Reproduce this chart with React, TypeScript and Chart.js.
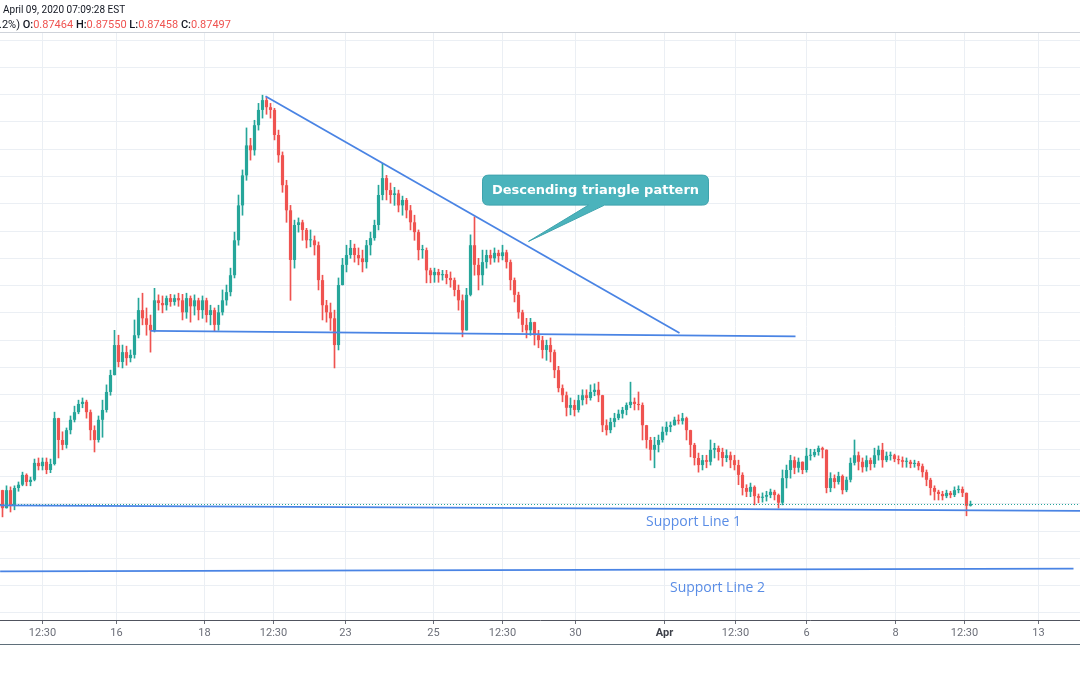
import React, { useEffect, useRef } from "react";
import { Chart, registerables } from "chart.js";

Chart.register(...registerables);

// ---------- DATA (EUR/GBP, candles) ----------
const firstOpen = 0.8775;

const closes = [
  0.8742, 0.8775, 0.8748, 0.8779, 0.8785, 0.8803, 0.8790, 0.8794, 0.8825, 0.8819,
  0.8827, 0.8812, 0.8823, 0.8907, 0.8867, 0.8858, 0.8885, 0.8904, 0.8918, 0.8933,
  0.8937, 0.8918, 0.8885, 0.8867, 0.8904, 0.8922, 0.8955, 0.8986, 0.9041, 0.9010,
  0.9028, 0.9017, 0.9023, 0.9059, 0.9105, 0.9090, 0.9078, 0.9068, 0.9123, 0.9118,
  0.9114, 0.9127, 0.9120, 0.9127, 0.9123, 0.9101, 0.9127, 0.9112, 0.9123, 0.9105,
  0.9123, 0.9096, 0.9105, 0.9078, 0.9101, 0.9123, 0.9138, 0.9169, 0.9233, 0.9297,
  0.9352, 0.9407, 0.9398, 0.9444, 0.9472, 0.9490, 0.9477, 0.9472, 0.9426, 0.9389,
  0.9334, 0.9288, 0.9197, 0.9261, 0.9266, 0.9252, 0.9233, 0.9233, 0.9224, 0.9160,
  0.9114, 0.9101, 0.9090, 0.9041, 0.9151, 0.9188, 0.9206, 0.9219, 0.9206, 0.9200,
  0.9193, 0.9224, 0.9237, 0.9261, 0.9316, 0.9347, 0.9325, 0.9316, 0.9319, 0.9297,
  0.9307, 0.9288, 0.9266, 0.9248, 0.9215, 0.9215, 0.9178, 0.9169, 0.9175, 0.9169,
  0.9171, 0.9164, 0.9160, 0.9142, 0.9123, 0.9068, 0.9133, 0.9224, 0.9188, 0.9169,
  0.9193, 0.9206, 0.9200, 0.9210, 0.9204, 0.9211, 0.9193, 0.9160, 0.9133, 0.9101,
  0.9078, 0.9068, 0.9083, 0.9059, 0.9050, 0.9032, 0.9041, 0.9028, 0.8995, 0.8962,
  0.8949, 0.8926, 0.8931, 0.8922, 0.8940, 0.8949, 0.8944, 0.8955, 0.8959, 0.8949,
  0.8894, 0.8885, 0.8900, 0.8907, 0.8915, 0.8922, 0.8931, 0.8937, 0.8933, 0.8931,
  0.8894, 0.8867, 0.8849, 0.8858, 0.8867, 0.8882, 0.8891, 0.8894, 0.8904, 0.8902,
  0.8907, 0.8885, 0.8858, 0.8834, 0.8821, 0.8830, 0.8827, 0.8849, 0.8852, 0.8845,
  0.8834, 0.8839, 0.8830, 0.8821, 0.8803, 0.8779, 0.8772, 0.8781, 0.8764, 0.8761,
  0.8763, 0.8766, 0.8772, 0.8766, 0.8752, 0.8797, 0.8812, 0.8830, 0.8816, 0.8827,
  0.8812, 0.8838, 0.8839, 0.8845, 0.8852, 0.8849, 0.8779, 0.8797, 0.8790, 0.8801,
  0.8775, 0.8794, 0.8825, 0.8839, 0.8827, 0.8817, 0.8830, 0.8823, 0.8839, 0.8849,
  0.8830, 0.8838, 0.8839, 0.8832, 0.8830, 0.8827, 0.8827, 0.8823, 0.8825, 0.8819,
  0.8808, 0.8794, 0.8779, 0.8772, 0.8768, 0.8764, 0.8770, 0.8766, 0.8775, 0.8777,
  0.8770, 0.87464, 0.87497,
];

const highs = [
  0.8775, 0.8783, 0.8781, 0.8783, 0.8790, 0.8808, 0.8805, 0.8799, 0.8832, 0.8834,
  0.8834, 0.8834, 0.8832, 0.8918, 0.8907, 0.8882, 0.8889, 0.8911, 0.8929, 0.8940,
  0.8944, 0.8940, 0.8922, 0.8893, 0.8911, 0.8940, 0.8968, 0.8995, 0.9068, 0.9059,
  0.9041, 0.9039, 0.9032, 0.9087, 0.9127, 0.9136, 0.9109, 0.9096, 0.9145, 0.9133,
  0.9131, 0.9131, 0.9134, 0.9133, 0.9136, 0.9134, 0.9136, 0.9131, 0.9133, 0.9127,
  0.9131, 0.9127, 0.9114, 0.9109, 0.9114, 0.9142, 0.9151, 0.9182, 0.9248, 0.9316,
  0.9362, 0.9439, 0.9420, 0.9453, 0.9484, 0.9499, 0.9495, 0.9484, 0.9475, 0.9435,
  0.9395, 0.9343, 0.9297, 0.9270, 0.9274, 0.9270, 0.9255, 0.9252, 0.9241, 0.9230,
  0.9169, 0.9123, 0.9118, 0.9105, 0.9164, 0.9200, 0.9224, 0.9233, 0.9226, 0.9219,
  0.9215, 0.9233, 0.9248, 0.9270, 0.9334, 0.9374, 0.9352, 0.9338, 0.9330, 0.9325,
  0.9314, 0.9310, 0.9297, 0.9279, 0.9252, 0.9224, 0.9219, 0.9182, 0.9182, 0.9180,
  0.9178, 0.9178, 0.9175, 0.9164, 0.9151, 0.9133, 0.9145, 0.9243, 0.9276, 0.9200,
  0.9215, 0.9215, 0.9215, 0.9219, 0.9215, 0.9224, 0.9215, 0.9197, 0.9164, 0.9138,
  0.9105, 0.9090, 0.9090, 0.9083, 0.9068, 0.9057, 0.9050, 0.9054, 0.9032, 0.9002,
  0.8968, 0.8955, 0.8944, 0.8940, 0.8949, 0.8959, 0.8959, 0.8968, 0.8970, 0.8973,
  0.8949, 0.8904, 0.8907, 0.8916, 0.8922, 0.8927, 0.8935, 0.8973, 0.8944, 0.8955,
  0.8935, 0.8894, 0.8872, 0.8872, 0.8876, 0.8891, 0.8900, 0.8900, 0.8909, 0.8913,
  0.8916, 0.8909, 0.8885, 0.8861, 0.8843, 0.8839, 0.8839, 0.8867, 0.8861, 0.8856,
  0.8852, 0.8849, 0.8845, 0.8839, 0.8830, 0.8807, 0.8785, 0.8788, 0.8783, 0.8768,
  0.8770, 0.8773, 0.8777, 0.8775, 0.8768, 0.8812, 0.8821, 0.8839, 0.8836, 0.8834,
  0.8827, 0.8852, 0.8850, 0.8850, 0.8856, 0.8854, 0.8845, 0.8807, 0.8803, 0.8808,
  0.8803, 0.8799, 0.8834, 0.8867, 0.8845, 0.8834, 0.8838, 0.8834, 0.8852, 0.8856,
  0.8861, 0.8845, 0.8845, 0.8841, 0.8838, 0.8836, 0.8834, 0.8830, 0.8830, 0.8828,
  0.8823, 0.8812, 0.8797, 0.8783, 0.8775, 0.8773, 0.8775, 0.8773, 0.8781, 0.8783,
  0.8781, 0.8766, 0.87550,
];

const lows = [
  0.8726, 0.8742, 0.8735, 0.8739, 0.8773, 0.8783, 0.8783, 0.8783, 0.8792, 0.8812,
  0.8812, 0.8805, 0.8807, 0.8821, 0.8834, 0.8849, 0.8852, 0.8878, 0.8900, 0.8915,
  0.8926, 0.8907, 0.8867, 0.8845, 0.8863, 0.8872, 0.8918, 0.8949, 0.8992, 0.9001,
  0.8999, 0.9004, 0.9010, 0.9017, 0.9054, 0.9078, 0.9059, 0.9028, 0.9065, 0.9105,
  0.9100, 0.9105, 0.9112, 0.9114, 0.9112, 0.9087, 0.9090, 0.9083, 0.9096, 0.9087,
  0.9090, 0.9083, 0.9078, 0.9067, 0.9068, 0.9096, 0.9114, 0.9131, 0.9164, 0.9224,
  0.9279, 0.9343, 0.9380, 0.9389, 0.9435, 0.9457, 0.9464, 0.9457, 0.9417, 0.9376,
  0.9321, 0.9266, 0.9123, 0.9182, 0.9248, 0.9233, 0.9219, 0.9221, 0.9206, 0.9142,
  0.9087, 0.9083, 0.9068, 0.8999, 0.9032, 0.9151, 0.9175, 0.9200, 0.9193, 0.9188,
  0.9175, 0.9182, 0.9206, 0.9233, 0.9252, 0.9307, 0.9307, 0.9301, 0.9297, 0.9285,
  0.9279, 0.9274, 0.9252, 0.9233, 0.9197, 0.9200, 0.9155, 0.9155, 0.9156, 0.9156,
  0.9160, 0.9153, 0.9147, 0.9131, 0.9105, 0.9056, 0.9087, 0.9131, 0.9169, 0.9142,
  0.9151, 0.9182, 0.9189, 0.9193, 0.9193, 0.9197, 0.9182, 0.9142, 0.9120, 0.9090,
  0.9065, 0.9054, 0.9059, 0.9041, 0.9036, 0.9017, 0.9013, 0.9010, 0.8981, 0.8955,
  0.8937, 0.8911, 0.8913, 0.8911, 0.8918, 0.8931, 0.8933, 0.8940, 0.8948, 0.8937,
  0.8882, 0.8876, 0.8880, 0.8891, 0.8904, 0.8907, 0.8913, 0.8926, 0.8922, 0.8922,
  0.8867, 0.8852, 0.8830, 0.8816, 0.8845, 0.8863, 0.8876, 0.8882, 0.8894, 0.8896,
  0.8896, 0.8867, 0.8836, 0.8821, 0.8808, 0.8812, 0.8816, 0.8821, 0.8834, 0.8830,
  0.8819, 0.8827, 0.8816, 0.8812, 0.8785, 0.8766, 0.8763, 0.8763, 0.8748, 0.8752,
  0.8753, 0.8755, 0.8761, 0.8757, 0.8742, 0.8748, 0.8779, 0.8797, 0.8805, 0.8808,
  0.8805, 0.8808, 0.8830, 0.8836, 0.8839, 0.8834, 0.8770, 0.8772, 0.8779, 0.8786,
  0.8768, 0.8772, 0.8790, 0.8821, 0.8812, 0.8808, 0.8810, 0.8812, 0.8817, 0.8830,
  0.8817, 0.8827, 0.8830, 0.8827, 0.8823, 0.8817, 0.8817, 0.8816, 0.8817, 0.8812,
  0.8799, 0.8783, 0.8766, 0.8757, 0.8757, 0.8757, 0.8761, 0.8761, 0.8763, 0.8770,
  0.8763, 0.8728, 0.87458,
];

// x-axis ticks: candle-index positions and their labels
const xTickIndex = [10, 28.5, 50.5, 67.75, 85.75, 107.75, 125, 143.25, 165.5, 183.25, 201, 223.25, 240.5, 259];
const xTickLabels = ["12:30", "16", "18", "12:30", "23", "25", "12:30", "30", "Apr", "12:30", "6", "8", "12:30", "13"];

// horizontal grid prices
const priceGrid = [
  0.855, 0.86, 0.865, 0.87, 0.875, 0.88, 0.885, 0.89, 0.895, 0.9, 0.905,
  0.91, 0.915, 0.92, 0.925, 0.93, 0.935, 0.94, 0.945, 0.95, 0.955, 0.96,
];

// header legend
const headerTime = "April 09, 2020 07:09:28 EST";
const changeText = ".2%)";
const ohlcKeys = ["O:", "H:", "L:", "C:"];
const ohlcValues = ["0.87464", "0.87550", "0.87458", "0.87497"];

// drawings (candle index, price)
const triangleTop = [[65.75, 0.9497], [169.25, 0.9063]];
const triangleBase = [[37, 0.9067], [198.25, 0.9057]];
const supportLine1 = [[-0.6, 0.8747], [269.4, 0.8737]];
const supportLine2 = [[-0.6, 0.8626], [267.75, 0.8631]];
const calloutText = "Descending triangle pattern";
const calloutCenter = [148.25, 0.9325];
const calloutTip = [131.5, 0.9231];
const supportLabels = [
  { text: "Support Line 1", at: [172.75, 0.8717] },
  { text: "Support Line 2", at: [178.75, 0.8596] },
];

const X_MIN = -0.625;
const X_MAX = 269.375;
const Y_MIN = 0.8537;
const Y_MAX = 0.9613;

const UP = "#26a69a";
const DOWN = "#ef5350";
const LINE_BLUE = "#4a84e4";

export default function App() {
  const ref = useRef<HTMLCanvasElement>(null);

  useEffect(() => {
    const opens = closes.map((_, i) => (i === 0 ? firstOpen : closes[i - 1]));
    const colors = closes.map((c, i) => (c >= opens[i] ? UP : DOWN));
    const bodyData = closes.map((c, i) => ({ x: i, y: [opens[i], c] }));
    const wickData = closes.map((c, i) => ({
      x: i,
      y: [Math.min(lows[i], opens[i], c), Math.max(highs[i], opens[i], c)],
    }));

    const overlay = {
      id: "overlay",
      afterDatasetsDraw(chart: any) {
        const { ctx, chartArea } = chart;
        const xs = chart.scales.x;
        const ys = chart.scales.y;
        const P = (p: number[]) => [xs.getPixelForValue(p[0]), ys.getPixelForValue(p[1])];
        ctx.save();
        ctx.beginPath();
        ctx.rect(chartArea.left, chartArea.top, chartArea.right - chartArea.left, chartArea.bottom - chartArea.top);
        ctx.clip();

        // current price dotted line
        const yc = Math.round(ys.getPixelForValue(closes[closes.length - 1])) + 0.5;
        ctx.strokeStyle = UP;
        ctx.lineWidth = 1;
        ctx.setLineDash([1, 2]);
        ctx.beginPath();
        ctx.moveTo(chartArea.left, yc);
        ctx.lineTo(chartArea.right, yc);
        ctx.stroke();
        ctx.setLineDash([]);

        // trend / support lines
        ctx.strokeStyle = LINE_BLUE;
        ctx.lineWidth = 1.8;
        for (const seg of [triangleTop, triangleBase, supportLine1, supportLine2]) {
          const a = P(seg[0]);
          const b = P(seg[1]);
          ctx.beginPath();
          ctx.moveTo(a[0], a[1]);
          ctx.lineTo(b[0], b[1]);
          ctx.stroke();
        }

        // callout
        const c = P(calloutCenter);
        const t = P(calloutTip);
        const w = 226, h = 30, r = 6;
        const x0 = c[0] - w / 2, y0 = c[1] - h / 2;
        ctx.beginPath();
        ctx.moveTo(x0 + r, y0);
        ctx.lineTo(x0 + w - r, y0);
        ctx.quadraticCurveTo(x0 + w, y0, x0 + w, y0 + r);
        ctx.lineTo(x0 + w, y0 + h - r);
        ctx.quadraticCurveTo(x0 + w, y0 + h, x0 + w - r, y0 + h);
        ctx.lineTo(c[0] + 9, y0 + h);
        ctx.lineTo(t[0], t[1]);
        ctx.lineTo(c[0] - 7, y0 + h);
        ctx.lineTo(x0 + r, y0 + h);
        ctx.quadraticCurveTo(x0, y0 + h, x0, y0 + h - r);
        ctx.lineTo(x0, y0 + r);
        ctx.quadraticCurveTo(x0, y0, x0 + r, y0);
        ctx.closePath();
        ctx.fillStyle = "#4bb3bc";
        ctx.fill();
        ctx.strokeStyle = "#3ea3ad";
        ctx.lineWidth = 1;
        ctx.stroke();
        ctx.fillStyle = "#ffffff";
        ctx.font = "bold 13px 'DejaVu Sans'";
        ctx.textAlign = "center";
        ctx.textBaseline = "middle";
        ctx.fillText(calloutText, c[0], c[1] + 1);

        // support labels
        ctx.fillStyle = "#5a8de6";
        ctx.font = "14px 'Open Sans'";
        for (const l of supportLabels) {
          const p = P(l.at);
          ctx.fillText(l.text, p[0], p[1]);
        }
        ctx.restore();
      },
      afterDraw(chart: any) {
        const { ctx, chartArea } = chart;
        ctx.save();
        // pane borders
        ctx.strokeStyle = "#cfd3da";
        ctx.lineWidth = 1;
        ctx.beginPath();
        ctx.moveTo(0, chartArea.top - 0.5);
        ctx.lineTo(1080, chartArea.top - 0.5);
        ctx.stroke();
        ctx.strokeStyle = "#5f6f7a";
        ctx.beginPath();
        ctx.moveTo(0, chartArea.bottom + 24.5);
        ctx.lineTo(1080, chartArea.bottom + 24.5);
        ctx.stroke();

        // header legend
        ctx.textAlign = "left";
        ctx.textBaseline = "middle";
        ctx.fillStyle = "#131722";
        ctx.font = "10px Roboto";
        ctx.fillText(headerTime, 3, 10);
        ctx.font = "11px Roboto";
        let x = -1;
        ctx.fillText(changeText, x, 25);
        x += ctx.measureText(changeText + " ").width;
        for (let i = 0; i < ohlcKeys.length; i++) {
          ctx.fillStyle = "#131722";
          ctx.font = "500 11px Roboto";
          ctx.fillText(ohlcKeys[i], x, 25);
          x += ctx.measureText(ohlcKeys[i]).width;
          ctx.fillStyle = DOWN;
          ctx.font = "11px Roboto";
          ctx.fillText(ohlcValues[i], x, 25);
          x += ctx.measureText(ohlcValues[i] + " ").width;
        }
        ctx.restore();
      },
    };

    const chart = new Chart(ref.current as HTMLCanvasElement, {
      type: "bar",
      data: {
        datasets: [
          {
            data: wickData as any,
            backgroundColor: colors,
            grouped: false,
            barPercentage: 1,
            categoryPercentage: 1,
            maxBarThickness: 1,
            borderWidth: 0,
            order: 2,
          } as any,
          {
            data: bodyData as any,
            backgroundColor: colors,
            grouped: false,
            barPercentage: 0.8,
            categoryPercentage: 1,
            minBarLength: 1,
            borderWidth: 0,
            order: 1,
          } as any,
        ],
      },
      options: {
        responsive: false,
        animation: false,
        events: [],
        layout: { padding: { top: 33, bottom: 31, left: 0, right: 0 } },
        plugins: { legend: { display: false }, tooltip: { enabled: false } },
        scales: {
          x: {
            type: "linear",
            min: X_MIN,
            max: X_MAX,
            offset: false,
            afterBuildTicks: (s: any) => {
              s.ticks = xTickIndex.map((v) => ({ value: v }));
            },
            afterFit: (s: any) => {
              s.height = 24;
            },
            grid: {
              offset: false,
              color: "#ebeff4",
              tickColor: "#6b6e78",
              tickLength: 4,
              drawTicks: true,
            },
            border: { display: true, color: "#50535e", width: 1 },
            ticks: {
              autoSkip: false,
              maxRotation: 0,
              padding: 3,
              font: (ctx: any) => ({
                family: "Roboto",
                size: 11,
                weight: xTickLabels[ctx.index] === "Apr" ? "bold" : "normal",
              }),
              color: (ctx: any) => (xTickLabels[ctx.index] === "Apr" ? "#3c3f48" : "#6b6e78"),
              callback: (_v: any, i: number) => xTickLabels[i],
            },
          },
          y: {
            type: "linear",
            min: Y_MIN,
            max: Y_MAX,
            afterBuildTicks: (s: any) => {
              s.ticks = priceGrid.map((v) => ({ value: v }));
            },
            afterFit: (s: any) => {
              s.width = 0;
            },
            grid: { color: "#ebeff4", drawTicks: false },
            border: { display: false },
            ticks: { display: false },
          },
        },
      },
      plugins: [overlay],
    } as any);
    return () => chart.destroy();
  }, []);

  return (
    <div style={{ position: "absolute", left: 0, top: 0, width: 1080, height: 675, background: "#ffffff" }}>
      <canvas ref={ref} width={1080} height={675} style={{ display: "block" }} />
    </div>
  );
}
